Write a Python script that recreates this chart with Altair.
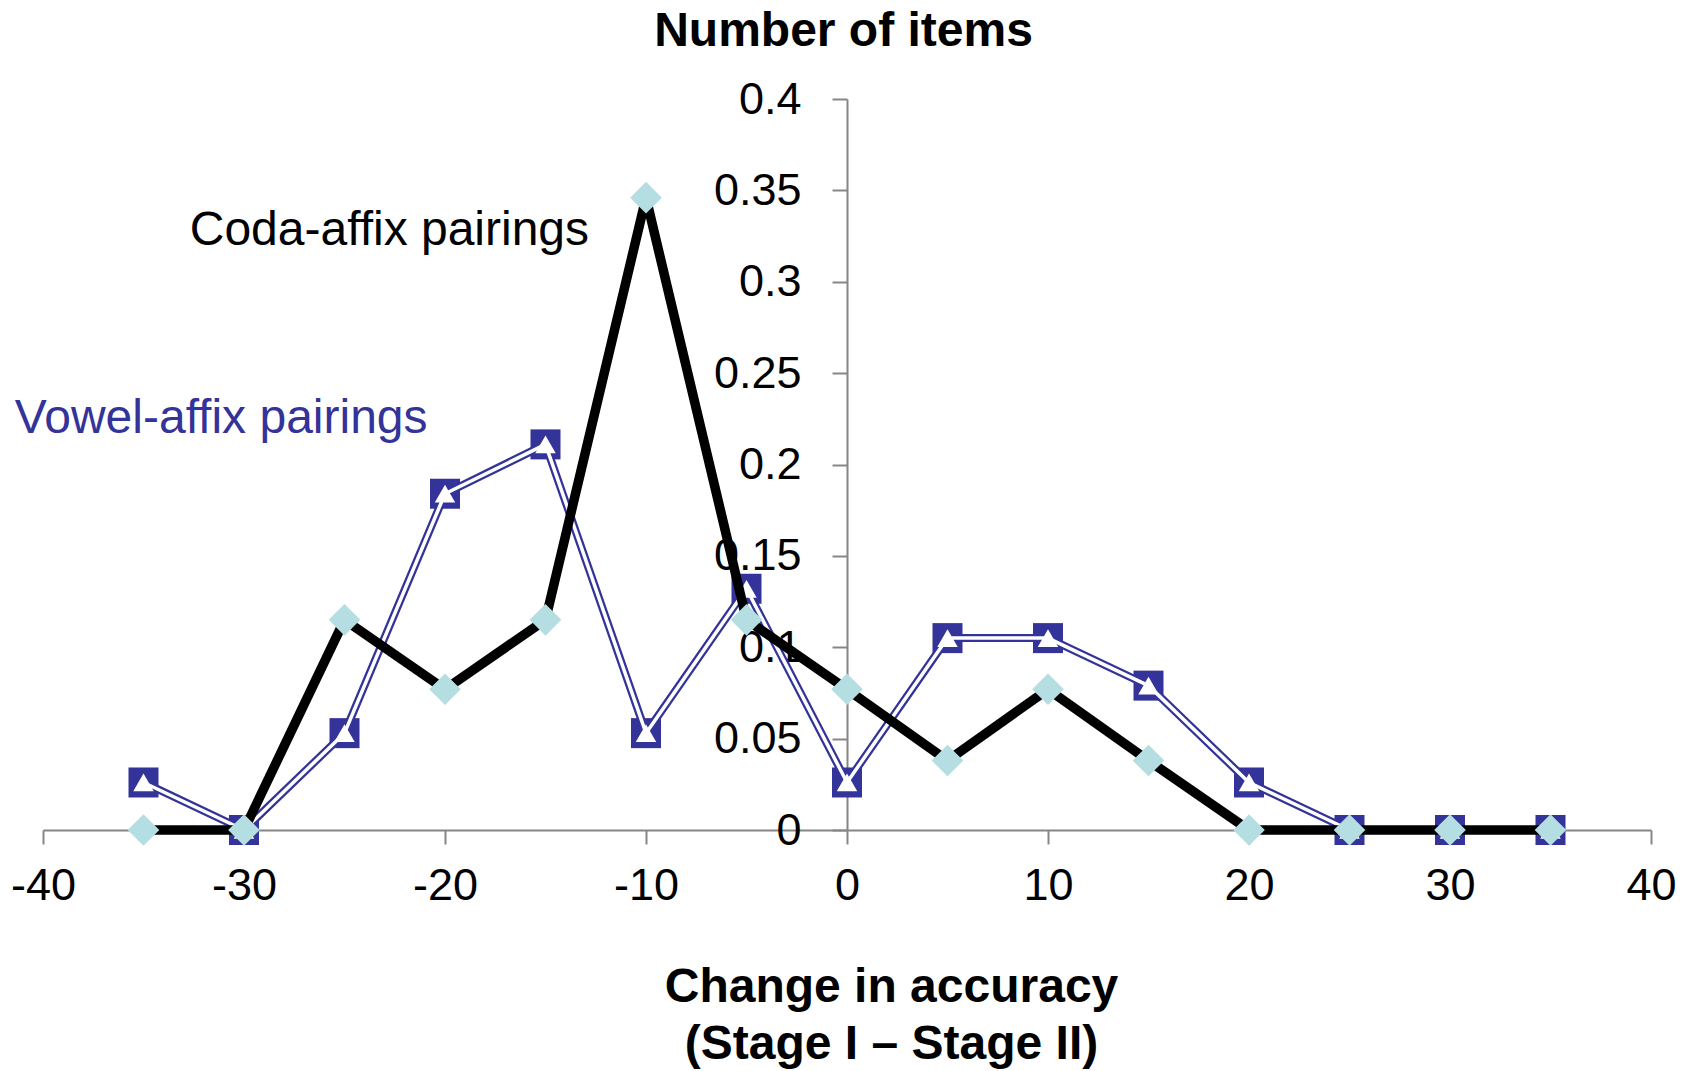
import altair as alt
import pandas as pd

# Change in accuracy (Stage I - Stage II), binned in steps of 5
change = [-35, -30, -25, -20, -15, -10, -5, 0, 5, 10, 15, 20, 25, 30, 35]
# Proportion of items in each bin
vowel_affix = [0.026, 0.0, 0.053, 0.184, 0.211, 0.053, 0.132, 0.026,
               0.105, 0.105, 0.079, 0.026, 0.0, 0.0, 0.0]
coda_affix = [0.0, 0.0, 0.115, 0.077, 0.115, 0.346, 0.115, 0.077,
              0.038, 0.077, 0.038, 0.0, 0.0, 0.0, 0.0]

x_ticks = [-40, -30, -20, -10, 0, 10, 20, 30, 40]
y_ticks = [0, 0.05, 0.1, 0.15, 0.2, 0.25, 0.3, 0.35, 0.4]

# Series labels placed in data units
label_text = ["Coda-affix pairings", "Vowel-affix pairings"]
label_x = [-32.7, -41.4]
label_y = [0.320, 0.217]
label_color = ["#000000", "#333399"]

FONT = "Liberation Sans"
BLUE = "#333399"
CYAN = "#B4DEE1"
GREY = "#868686"

W, H = 1608, 731

df = pd.DataFrame({"change": change, "vowel": vowel_affix, "coda": coda_affix})
labels = pd.DataFrame({"text": label_text, "x": label_x, "y": label_y, "color": label_color})

x_scale = alt.Scale(domain=[-40, 40], nice=False, zero=False)
y_scale = alt.Scale(domain=[0, 0.4], nice=False)

x_axis = alt.Axis(
    values=x_ticks, labelExpr="toString(datum.value)", grid=False,
    labelFont=FONT, labelFontSize=45, labelColor="black", labelPadding=19,
    labelFlush=False, labelOverlap=False,
    tickSize=14, tickWidth=2, tickColor=GREY, domainColor=GREY, domainWidth=2,
    title=["Change in accuracy", "(Stage I \u2013 Stage II)"],
    titleFont=FONT, titleFontSize=48, titleFontWeight="bold", titleColor="black",
    titleX=848, titleY=171, titleAlign="center", titleBaseline="alphabetic",
    titleLineHeight=57,
)
y_axis = alt.Axis(
    values=y_ticks, format=".2~f", grid=False, offset=-W / 2,
    labelFont=FONT, labelFontSize=45, labelColor="black", labelPadding=31,
    labelFlush=False, labelOverlap=False,
    tickSize=15, tickWidth=2, tickColor=GREY, domainColor=GREY, domainWidth=2,
    title="Number of items", titleAngle=0,
    titleFont=FONT, titleFontSize=48, titleFontWeight="bold", titleColor="black",
    titleX=-4, titleY=-54, titleAlign="center", titleBaseline="alphabetic",
)


def xenc(field="change"):
    return alt.X(f"{field}:Q", scale=x_scale, axis=x_axis)


def yenc(field):
    return alt.Y(f"{field}:Q", scale=y_scale, axis=y_axis)


base = alt.Chart(df)

vowel_outer = base.mark_line(color=BLUE, strokeWidth=8, strokeJoin="round").encode(
    x=xenc(), y=yenc("vowel"))
vowel_squares = base.mark_point(shape="square", filled=True, opacity=1, color=BLUE, size=900).encode(
    x=xenc(), y=yenc("vowel"))
vowel_inner = base.mark_line(color="white", strokeWidth=3.5, strokeJoin="round").encode(
    x=xenc(), y=yenc("vowel"))
vowel_triangles = base.mark_point(shape="triangle-up", filled=True, opacity=1, color="white", size=420).encode(
    x=xenc(), y=yenc("vowel"))

coda_line = base.mark_line(color="black", strokeWidth=9.5, strokeJoin="round").encode(
    x=xenc(), y=yenc("coda"))
coda_diamonds = base.mark_point(shape="diamond", filled=True, opacity=1, color=CYAN, size=1000).encode(
    x=xenc(), y=yenc("coda"))

series_labels = alt.Chart(labels).mark_text(
    font=FONT, fontSize=48, align="left", baseline="alphabetic"
).encode(
    x=xenc("x"), y=yenc("y"), text="text:N", color=alt.Color("color:N", scale=None)
)

chart = alt.layer(
    vowel_outer, vowel_squares, vowel_inner, vowel_triangles,
    coda_line, coda_diamonds, series_labels
).properties(
    width=W, height=H,
    autosize=alt.AutoSizeParams(type="none"),
    padding={"left": 43, "top": 99, "right": 41, "bottom": 241},
    background="white",
).configure_view(stroke=None)

chart.save("out.html", embed_options={"renderer": "svg", "actions": False})
